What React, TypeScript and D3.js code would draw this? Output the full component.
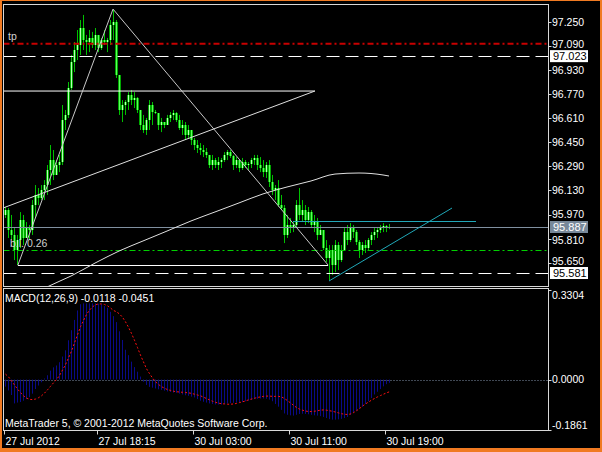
import React from 'react';
import * as d3 from 'd3';

// ---- price bars (M15) ----
const firstOpen = 95.967;
const highs = [96.020, 96.013, 95.967, 95.880, 95.834, 95.986, 95.967, 95.920, 95.900, 96.066,
  96.166, 96.146, 96.166, 96.199, 96.299, 96.432, 96.399, 96.332, 96.366, 96.698,
  96.665, 96.851, 97.031, 97.117, 97.197, 97.263, 97.297, 97.164, 97.197, 97.184,
  97.210, 97.164, 97.144, 97.197, 97.144, 97.263, 97.330, 97.263, 96.898, 96.731,
  96.731, 96.784, 96.798, 96.784, 96.751, 96.665, 96.632, 96.612, 96.731, 96.718,
  96.665, 96.598, 96.612, 96.585, 96.632, 96.651, 96.665, 96.651, 96.632, 96.598,
  96.585, 96.565, 96.532, 96.479, 96.465, 96.445, 96.432, 96.412, 96.366, 96.366,
  96.346, 96.352, 96.346, 96.385, 96.399, 96.399, 96.366, 96.352, 96.332, 96.346,
  96.332, 96.319, 96.346, 96.366, 96.366, 96.352, 96.332, 96.319, 96.332, 96.233,
  96.166, 96.199, 96.100, 96.033, 95.967, 95.947, 95.920, 96.066, 96.146, 96.066,
  96.033, 96.020, 96.000, 95.967, 95.947, 95.900, 95.853, 95.800, 95.767, 95.767,
  95.800, 95.787, 95.767, 95.880, 95.900, 95.913, 95.900, 95.867, 95.800, 95.787,
  95.800, 95.814, 95.853, 95.880, 95.887, 95.900, 95.913, 95.900, 95.907];
const lows = [95.947, 95.814, 95.800, 95.667, 95.634, 95.747, 95.767, 95.814, 95.800, 95.834,
  95.947, 96.033, 96.066, 96.066, 96.100, 96.166, 96.199, 96.233, 96.252, 96.299,
  96.532, 96.612, 96.798, 96.917, 96.997, 97.031, 97.064, 97.031, 97.050, 97.077,
  97.064, 97.050, 97.064, 97.097, 97.050, 97.097, 97.130, 96.878, 96.632, 96.585,
  96.632, 96.665, 96.698, 96.678, 96.645, 96.532, 96.512, 96.499, 96.532, 96.565,
  96.638, 96.532, 96.518, 96.545, 96.565, 96.585, 96.598, 96.585, 96.532, 96.499,
  96.465, 96.479, 96.432, 96.399, 96.379, 96.366, 96.352, 96.346, 96.279, 96.266,
  96.279, 96.266, 96.279, 96.319, 96.332, 96.346, 96.266, 96.279, 96.252, 96.266,
  96.279, 96.266, 96.279, 96.299, 96.266, 96.252, 96.219, 96.213, 96.153, 96.100,
  96.066, 96.020, 96.000, 95.780, 95.814, 95.847, 95.853, 95.887, 95.933, 95.920,
  95.900, 95.913, 95.880, 95.853, 95.800, 95.834, 95.734, 95.654, 95.534, 95.568,
  95.587, 95.601, 95.654, 95.734, 95.767, 95.787, 95.814, 95.767, 95.681, 95.701,
  95.714, 95.734, 95.767, 95.800, 95.814, 95.847, 95.853, 95.853, 95.873];
const closes = [96.000, 95.867, 95.834, 95.734, 95.800, 95.933, 95.814, 95.880, 95.867, 96.033,
  96.100, 96.080, 96.133, 96.166, 96.266, 96.332, 96.233, 96.299, 96.319, 96.598,
  96.632, 96.811, 96.984, 97.064, 97.097, 97.210, 97.130, 97.117, 97.144, 97.097,
  97.164, 97.077, 97.130, 97.117, 97.130, 97.230, 97.250, 96.898, 96.665, 96.698,
  96.718, 96.765, 96.731, 96.745, 96.665, 96.565, 96.532, 96.598, 96.698, 96.651,
  96.645, 96.565, 96.585, 96.565, 96.612, 96.632, 96.645, 96.598, 96.545, 96.565,
  96.499, 96.532, 96.465, 96.432, 96.412, 96.399, 96.385, 96.366, 96.299, 96.332,
  96.299, 96.319, 96.332, 96.366, 96.385, 96.359, 96.299, 96.332, 96.279, 96.319,
  96.299, 96.306, 96.332, 96.346, 96.299, 96.279, 96.252, 96.299, 96.186, 96.133,
  96.146, 96.033, 96.013, 95.834, 95.900, 95.880, 95.900, 96.033, 95.967, 96.000,
  95.933, 95.986, 95.900, 95.920, 95.834, 95.867, 95.747, 95.681, 95.734, 95.634,
  95.767, 95.667, 95.734, 95.853, 95.800, 95.880, 95.853, 95.787, 95.734, 95.767,
  95.747, 95.800, 95.834, 95.853, 95.867, 95.880, 95.893, 95.880, 95.887];

// ---- MACD(12,26,9) ----
const macdHist = [-0.026, -0.040, -0.057, -0.088, -0.085, -0.083, -0.078, -0.072, -0.065, -0.052,
  -0.035, -0.022, -0.010, 0.004, 0.016, 0.033, 0.045, 0.052, 0.064, 0.085,
  0.108, 0.145, 0.182, 0.220, 0.255, 0.278, 0.281, 0.281, 0.281, 0.281,
  0.281, 0.280, 0.278, 0.271, 0.265, 0.250, 0.234, 0.212, 0.178, 0.146,
  0.110, 0.090, 0.066, 0.046, 0.029, 0.011, -0.008, -0.020, -0.027, -0.030,
  -0.033, -0.036, -0.038, -0.041, -0.044, -0.046, -0.048, -0.049, -0.052, -0.055,
  -0.058, -0.060, -0.063, -0.066, -0.072, -0.078, -0.082, -0.085, -0.088, -0.090,
  -0.092, -0.092, -0.092, -0.090, -0.088, -0.087, -0.086, -0.085, -0.084, -0.082,
  -0.080, -0.078, -0.075, -0.072, -0.071, -0.070, -0.070, -0.071, -0.074, -0.080,
  -0.090, -0.100, -0.112, -0.125, -0.130, -0.132, -0.133, -0.130, -0.127, -0.126,
  -0.127, -0.128, -0.130, -0.132, -0.133, -0.135, -0.138, -0.142, -0.146, -0.148,
  -0.148, -0.147, -0.145, -0.142, -0.138, -0.130, -0.122, -0.115, -0.108, -0.100,
  -0.090, -0.080, -0.068, -0.055, -0.045, -0.035, -0.025, -0.017, -0.012];
const macdSignal = [0.020, 0.010, -0.005, -0.020, -0.035, -0.048, -0.060, -0.068, -0.073, -0.074,
  -0.072, -0.067, -0.060, -0.050, -0.038, -0.025, -0.012, 0.000, 0.015, 0.035,
  0.055, 0.080, 0.105, 0.135, 0.165, 0.195, 0.218, 0.240, 0.256, 0.268,
  0.276, 0.279, 0.279, 0.277, 0.272, 0.264, 0.255, 0.250, 0.242, 0.230,
  0.213, 0.193, 0.170, 0.145, 0.118, 0.090, 0.065, 0.040, 0.022, 0.006,
  -0.008, -0.018, -0.026, -0.032, -0.037, -0.040, -0.043, -0.045, -0.046, -0.047,
  -0.048, -0.049, -0.051, -0.054, -0.057, -0.060, -0.065, -0.070, -0.075, -0.080,
  -0.084, -0.087, -0.089, -0.090, -0.091, -0.091, -0.090, -0.088, -0.085, -0.082,
  -0.079, -0.075, -0.072, -0.069, -0.066, -0.064, -0.062, -0.061, -0.061, -0.062,
  -0.062, -0.062, -0.064, -0.070, -0.078, -0.086, -0.095, -0.103, -0.109, -0.113,
  -0.116, -0.118, -0.118, -0.117, -0.115, -0.113, -0.112, -0.113, -0.115, -0.117,
  -0.120, -0.123, -0.126, -0.128, -0.129, -0.127, -0.122, -0.115, -0.107, -0.098,
  -0.090, -0.083, -0.076, -0.070, -0.064, -0.059, -0.054, -0.049, -0.045];

// ---- axes ----
const priceTicks = [97.25, 97.09, 96.93, 96.77, 96.61, 96.45, 96.29, 96.13, 95.97, 95.81, 95.65];
const macdTicks = [0.3304, 0, -0.1861];
const timeLabels = ['27 Jul 2012', '27 Jul 18:15', '30 Jul 03:00', '30 Jul 11:00', '30 Jul 19:00'];
const timeTickIdx = [0, 31, 63, 95, 127];

// ---- levels & objects ----
const tpLevel = 97.106;
const dashedLevels = [97.023, 95.581];
const blLevel = 95.732;
const bidPrice = 95.887;
const curveIdx = [8, 14, 22, 30, 38, 46, 54, 62, 70, 78, 86, 94, 102, 110, 118, 126, 128];
const curvePrice = [95.421, 95.488, 95.561, 95.647, 95.727, 95.794, 95.860, 95.927, 95.987, 96.047,
  96.107, 96.153, 96.193, 96.239, 96.246, 96.233, 96.226];
const triIdx = [-0.7, 103.3];
const triPrice = [96.791, 96.013];
const zigIdx = [4.3, 36, 107.7];
const zigPrice = [95.634, 97.336, 95.634];
const cyanLevel = 95.927;
const cyanLevelIdx = [96, 157];
const cyanTrendIdx = [108, 149];
const cyanTrendPrice = [95.528, 96.013];

const FONT = 'Liberation Sans, Arial, sans-serif';

export default function App() {
  const L = 3.5, R = 548.5, MT = 4.5, MB = 286.5, ST = 288.5, SB = 430.5;
  const x = d3.scaleLinear().domain([0, 128]).range([5, 389]);
  const y = d3.scaleLinear().domain([97.25, 95.65]).range([22, 262.64]);
  const ym = d3.scaleLinear().domain([0.3304, -0.1861]).range([290, 430]);
  const px = (i: number) => Math.round(x(i));
  const sig = d3.line<number>().x((_, i) => px(i) + 0.5).y((v) => ym(v));
  const curve = d3.line<number>().x((_, i) => x(curveIdx[i])).y((v) => y(v)).curve(d3.curveMonotoneX);
  const y0 = Math.round(ym(0)) + 0.5;

  const boxLabel = (p: number, bg: string, fg: string) => {
    const cy = y(p);
    return (
      <g key={'b' + p}>
        <rect x={550} y={cy - 6} width={38} height={12} fill={bg} />
        <text x={553} y={cy} dy="0.36em" fill={fg} fontSize={11} fontFamily={FONT}>{p.toFixed(3)}</text>
      </g>
    );
  };

  // tick labels that sit right next to a boxed label are nudged away from it
  const tickShift = (p: number) => {
    const ty = y(p);
    for (const b of [...dashedLevels, bidPrice]) {
      const by = y(b);
      const d = ty - by;
      if (Math.abs(d) < 12) return d < 0 ? -(12 - Math.abs(d)) * 0.5 - 1 : (12 - Math.abs(d)) * 0.5 + 1;
    }
    return 0;
  };

  return (
    <div style={{ position: 'fixed', left: 0, top: 0 }}>
      <svg width={602} height={452} style={{ display: 'block' }}>
        <defs>
          <clipPath id="mainClip"><rect x={4} y={5} width={544} height={281} /></clipPath>
          <clipPath id="subClip"><rect x={4} y={289} width={544} height={141} /></clipPath>
        </defs>
        <rect x={0} y={0} width={602} height={452} fill="#f07a22" />
        <rect x={2} y={1} width={598} height={447} fill="#000" />

        {/* main panel */}
        <g clipPath="url(#mainClip)">
          {closes.map((c, i) => {
            const o = i === 0 ? firstOpen : closes[i - 1];
            const hi = Math.max(highs[i], o, c);
            const lo = Math.min(lows[i], o, c);
            const cx = px(i);
            const yt = Math.round(y(Math.max(o, c)));
            const yb = Math.round(y(Math.min(o, c)));
            const bh = Math.max(1, yb - yt);
            return (
              <g key={i}>
                <line x1={cx + 0.5} x2={cx + 0.5} y1={y(hi)} y2={y(lo)} stroke="#00c000" />
                <rect x={cx - 1} y={yt} width={3} height={bh} fill="#00a800" />
                <rect x={cx} y={yt} width={1} height={bh} fill={c >= o ? '#b8ffb8' : '#5cff5c'} />
              </g>
            );
          })}

          <line x1={L} x2={R} y1={Math.round(y(bidPrice)) + 0.5} y2={Math.round(y(bidPrice)) + 0.5} stroke="#8090a0" />
          <line x1={L} x2={R} y1={y(tpLevel)} y2={y(tpLevel)} stroke="#c80000" strokeWidth={2} strokeDasharray="6,3,2,3" />
          {dashedLevels.map((p) => (
            <line key={p} x1={L} x2={R} y1={Math.round(y(p)) + 0.5} y2={Math.round(y(p)) + 0.5} stroke="#ffffff" strokeDasharray="13,6" />
          ))}
          <line x1={L} x2={R} y1={Math.round(y(blLevel)) + 0.5} y2={Math.round(y(blLevel)) + 0.5} stroke="#00d000" strokeDasharray="6,3,2,3" />

          {/* triangle */}
          <line x1={x(triIdx[0])} x2={x(triIdx[1])} y1={y(triPrice[0])} y2={y(triPrice[0])} stroke="#ffffff" />
          <line x1={x(triIdx[1])} x2={x(triIdx[0])} y1={y(triPrice[0])} y2={y(triPrice[1])} stroke="#e0e0e0" />
          {/* zigzag triangle */}
          <line x1={x(zigIdx[0])} x2={x(zigIdx[1])} y1={y(zigPrice[0])} y2={y(zigPrice[1])} stroke="#c8c8c8" />
          <line x1={x(zigIdx[1])} x2={x(zigIdx[2])} y1={y(zigPrice[1])} y2={y(zigPrice[2])} stroke="#c8c8c8" />
          <line x1={x(zigIdx[0])} x2={x(zigIdx[2])} y1={Math.round(y(zigPrice[0])) + 0.5} y2={Math.round(y(zigPrice[2])) + 0.5} stroke="#ffffff" />
          {/* curve */}
          <path d={curve(curvePrice) || ''} fill="none" stroke="#e0e0e0" />
          {/* cyan objects */}
          <line x1={x(cyanLevelIdx[0])} x2={x(cyanLevelIdx[1])} y1={Math.round(y(cyanLevel)) + 0.5} y2={Math.round(y(cyanLevel)) + 0.5} stroke="#20a8b8" />
          <line x1={x(cyanTrendIdx[0])} x2={x(cyanTrendIdx[1])} y1={y(cyanTrendPrice[0])} y2={y(cyanTrendPrice[1])} stroke="#20a8b8" />

          <text x={8} y={y(tpLevel) - 4} fill="#d0d0d0" fontSize={10.5} fontFamily={FONT}>tp</text>
          <text x={10} y={y(blLevel) - 3} fill="#d0d0d0" fontSize={10.5} fontFamily={FONT}>b.l. 0.26</text>
        </g>
        <rect x={L} y={MT} width={R - L} height={MB - MT} fill="none" stroke="#d8d8d8" />

        {/* price axis */}
        {priceTicks.map((p) => (
          <g key={p}>
            <line x1={R} x2={R + 3} y1={Math.round(y(p)) + 0.5} y2={Math.round(y(p)) + 0.5} stroke="#d8d8d8" />
            <text x={552} y={y(p) + tickShift(p)} dy="0.36em" fill="#ffffff" fontSize={10.5} fontFamily={FONT}>{p.toFixed(3)}</text>
          </g>
        ))}
        {boxLabel(dashedLevels[0], '#ffffff', '#000000')}
        {boxLabel(bidPrice, '#778899', '#ffffff')}
        {boxLabel(dashedLevels[1], '#ffffff', '#000000')}

        {/* MACD panel */}
        <g clipPath="url(#subClip)">
          <line x1={L} x2={R} y1={y0} y2={y0} stroke="#8090a8" strokeDasharray="1,2" />
          {macdHist.map((v, i) => (
            <line key={i} x1={px(i) + 0.5} x2={px(i) + 0.5} y1={ym(0)} y2={ym(v)} stroke="#0a0a88" />
          ))}
          <path d={sig(macdSignal) || ''} fill="none" stroke="#ff1010" strokeDasharray="2,2" />
          <text x={5} y={298} dy="0.36em" fill="#ffffff" fontSize={10.5} fontFamily={FONT}>MACD(12,26,9) -0.0118 -0.0451</text>
          <text x={5} y={423} dy="0.36em" fill="#ffffff" fontSize={10.5} fontFamily={FONT}>MetaTrader 5, © 2001-2012 MetaQuotes Software Corp.</text>
        </g>
        <rect x={L} y={ST} width={R - L} height={SB - ST} fill="none" stroke="#d8d8d8" />
        {macdTicks.map((v, i) => {
          const ty = ym(v);
          const off = i === 0 ? 5 : i === macdTicks.length - 1 ? -5 : 0;
          return (
            <g key={v}>
              <line x1={R} x2={R + 3} y1={Math.round(ty) + 0.5} y2={Math.round(ty) + 0.5} stroke="#d8d8d8" />
              <text x={552} y={ty + off} dy="0.36em" fill="#ffffff" fontSize={10.5} fontFamily={FONT}>{v.toFixed(4)}</text>
            </g>
          );
        })}

        {/* time axis */}
        {timeTickIdx.map((ti, k) => {
          const tx = px(ti) - 1 + 0.5;
          return (
            <g key={ti}>
              <line x1={tx} x2={tx} y1={SB} y2={SB + 4} stroke="#d8d8d8" />
              <text x={tx + 1} y={441} dy="0.36em" fill="#ffffff" fontSize={10.5} fontFamily={FONT}>{timeLabels[k]}</text>
            </g>
          );
        })}
      </svg>
    </div>
  );
}
